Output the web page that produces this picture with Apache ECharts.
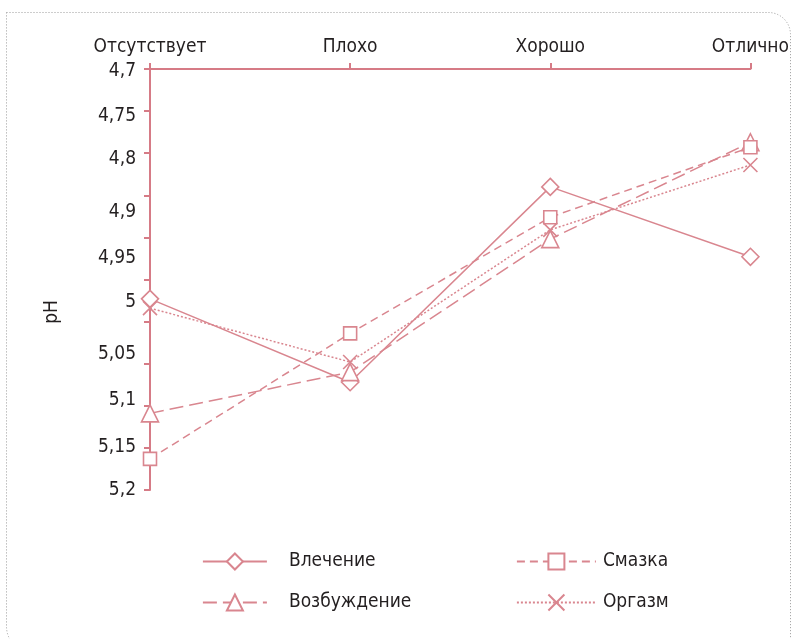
<!DOCTYPE html>
<html>
<head>
<meta charset="utf-8">
<script src="https://cdn.jsdelivr.net/npm/echarts@6/dist/echarts.min.js"></script>
<style>
html,body{margin:0;padding:0;background:#fff;}
#chart{width:792px;height:639px;}
</style>
</head>
<body>
<div id="chart"></div>
<script>
// ---- data ----
const categories = ['Отсутствует', 'Плохо', 'Хорошо', 'Отлично'];
const seriesNames = ['Влечение', 'Возбуждение', 'Смазка', 'Оргазм'];
const drive = [4.973, 5.072, 4.840, 4.923];        // Влечение
const arousal = [5.109, 5.060, 4.902, 4.787];      // Возбуждение
const lubrication = [5.163, 5.014, 4.876, 4.793];  // Смазка
const orgasm = [4.984, 5.048, 4.891, 4.814];       // Оргазм
const tickValues = [4.7, 4.75, 4.8, 4.85, 4.9, 4.95, 5.0, 5.05, 5.1, 5.15, 5.2];
const tickLabels = ['4,7', '4,75', '4,8', '4,9', '4,95', '5', '5,05', '5,1', '5,15', '5,2'];
const axisName = 'pH';

// ---- layout (label anchor values as placed in the original figure) ----
const labelAnchors = [4.7024, 4.7558, 4.8069, 4.8698, 4.9245, 4.9767, 5.0385, 5.0931, 5.1489, 5.2];

const FONT = '"DejaVu Sans Condensed", "Noto Sans", sans-serif';
const LINE = '#d9868f';
const AXIS = '#d67b86';
const TEXT = '#231f20';

const chart = echarts.init(document.getElementById('chart'), null, {renderer: 'canvas'});

function mkSeries(name, data, symbol, size, lineType) {
  return {
    name: name, type: 'line', data: data,
    symbol: symbol, symbolSize: size, showSymbol: true,
    lineStyle: {color: LINE, width: 1.5, type: lineType},
    itemStyle: {color: '#fff', borderColor: LINE, borderWidth: 1.6},
    emphasis: {disabled: true},
    z: 3
  };
}

const option = {
  animation: false,
  backgroundColor: '#fff',
  textStyle: {fontFamily: FONT},
  grid: {left: 150, right: 37, top: 69, bottom: 149, containLabel: false},
  xAxis: {
    type: 'category', position: 'top', boundaryGap: false, data: categories,
    axisLine: {lineStyle: {color: AXIS, width: 2}},
    axisTick: {show: true, length: 6, alignWithLabel: true, lineStyle: {color: AXIS, width: 2}},
    axisLabel: {color: TEXT, fontSize: 19, fontFamily: FONT, margin: 12},
    splitLine: {show: false}
  },
  yAxis: {
    type: 'value', inverse: true, min: 4.7, max: 5.2, interval: 0.05,
    axisLine: {show: true, lineStyle: {color: AXIS, width: 2}},
    axisTick: {show: true, length: 6, customValues: tickValues, lineStyle: {color: AXIS, width: 2}},
    axisLabel: {
      color: TEXT, fontSize: 19, fontFamily: FONT, margin: 14,
      customValues: labelAnchors,
      formatter: function (v) {
        const i = labelAnchors.findIndex(a => Math.abs(a - v) < 1e-6);
        return i >= 0 ? tickLabels[i] : '';
      }
    },
    splitLine: {show: false}
  },
  legend: [
    {
      data: [seriesNames[0], seriesNames[1]], orient: 'vertical', left: 197, top: 547,
      itemWidth: 64, itemHeight: 20, itemGap: 22,
      lineStyle: {width: 1.8},
      textStyle: {color: TEXT, fontSize: 19, fontFamily: FONT, padding: [0, 0, 0, 17]},
      selectedMode: false
    },
    {
      data: [seriesNames[2], seriesNames[3]], orient: 'vertical', left: 511, top: 547,
      itemWidth: 79, itemHeight: 20, itemGap: 22,
      lineStyle: {width: 1.8},
      textStyle: {color: TEXT, fontSize: 19, fontFamily: FONT, padding: [0, 0, 0, 2]},
      selectedMode: false
    }
  ],
  series: [
    mkSeries(seriesNames[0], drive, 'diamond', 17, 'solid'),
    mkSeries(seriesNames[1], arousal, 'triangle', 17, [14, 6]),
    mkSeries(seriesNames[2], lubrication, 'rect', 13, [8, 5]),
    mkSeries(seriesNames[3], orgasm, 'path://M0,0L10,10M10,0L0,10', 14, [2, 2])
  ],
  graphic: [
    {
      type: 'rect', silent: true, z: -1,
      shape: {x: 6.5, y: 12.5, width: 784, height: 640, r: [0, 22, 0, 26]},
      style: {fill: 'none', stroke: '#9a9a9a', lineWidth: 1, lineDash: [1, 2]}
    },
    {
      type: 'text', silent: true, x: 52, y: 312, rotation: Math.PI / 2,
      style: {text: axisName, font: '19px ' + FONT, fill: TEXT, align: 'center', verticalAlign: 'middle'}
    }
  ]
};
chart.setOption(option);
</script>
</body>
</html>
